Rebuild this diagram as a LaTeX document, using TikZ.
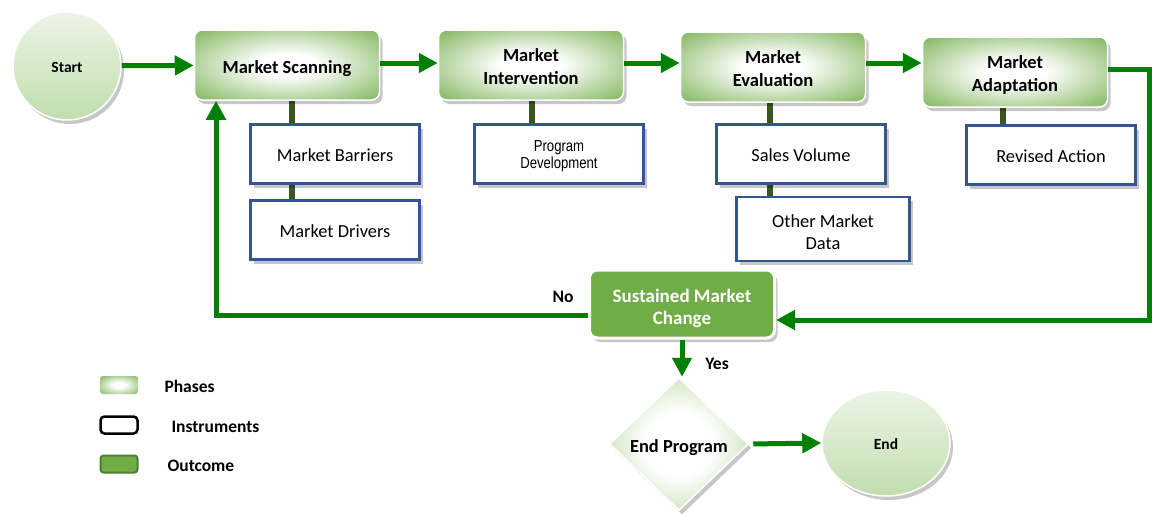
\documentclass[tikz,border=0pt]{standalone}
\usepackage{fontspec}
\setmainfont{Carlito}
\newfontfamily\arialf[FakeStretch=0.82]{Liberation Sans}
\usetikzlibrary{arrows.meta,shapes.geometric,shadows,backgrounds}
\definecolor{phaseG}{RGB}{118,175,78}
\definecolor{diaG}{RGB}{170,208,143}
\definecolor{outG}{RGB}{112,173,71}
\definecolor{outB}{RGB}{80,126,50}
\definecolor{flowG}{RGB}{0,128,0}
\definecolor{connG}{RGB}{56,87,35}
\definecolor{instB}{RGB}{52,85,145}
\definecolor{circT}{RGB}{236,244,230}
\definecolor{circB}{RGB}{193,222,175}
\pgfdeclareradialshading{phaseshade}{\pgfpoint{0bp}{0bp}}{color(0bp)=(white); color(8bp)=(white); color(38bp)=(phaseG); color(75bp)=(phaseG)}
\pgfdeclareradialshading{diashade}{\pgfpoint{0bp}{0bp}}{color(0bp)=(white); color(12bp)=(white); color(38bp)=(diaG); color(75bp)=(diaG)}
\newcommand\lowr[2]{\raisebox{-#1}[\height][\depth]{\begin{tabular}{@{}c@{}}#2\end{tabular}}}
\tikzset{
  shad/.style={drop shadow={shadow xshift=3pt,shadow yshift=-4pt,opacity=0.22,fill=black}},
  phase/.style={rounded corners=8pt, minimum width=185pt, minimum height=70pt, draw=white, line width=1.5pt,
    shading=phaseshade, shad, align=center, font=\bfseries\fontsize{18.5}{23}\selectfont},
  instr/.style={draw=instB, line width=2.2pt, fill=white, minimum width=169pt, minimum height=59pt,
    shad, align=center, font=\fontsize{18.4}{22}\selectfont},
  outc/.style={rounded corners=8pt, minimum width=185pt, minimum height=68pt, draw=white, line width=3pt,
    fill=outG, shad, align=center, text=white, font=\bfseries\fontsize{19}{22}\selectfont},
  term/.style={draw=white, line width=1.5pt, top color=circT, bottom color=circB, shad,
    font=\bfseries\fontsize{15.5}{18}\selectfont},
  flow/.style={draw=flowG, line width=5pt, -{Triangle[length=19pt,width=19pt]}},
  conn/.style={draw=connG, line width=6pt},
  lbl/.style={font=\bfseries\fontsize{17.5}{20}\selectfont},
}
\begin{document}
\begin{tikzpicture}[x=1pt,y=-1pt]
\useasboundingbox (0,0) rectangle (1152,514);
% terminals
\node[term, circle, minimum size=108pt, inner sep=0pt] (start) at (67,66) {\lowr{3pt}{Start}};
\node[term, ellipse, minimum width=128pt, minimum height=106pt, inner sep=0pt] (end) at (886,443) {\lowr{3pt}{End}};
% phases
\node[phase] (scan) at (287,65) {\lowr{4pt}{Market Scanning}};
\node[phase] (interv) at (531,65) {\lowr{3pt}{Market\\Intervention}};
\node[phase] (eval) at (773,67) {\lowr{3pt}{Market\\Evaluation}};
\node[phase] (adapt) at (1015,72) {\lowr{3pt}{Market\\Adaptation}};
% instruments
\node[instr] (barr) at (335,154) {\lowr{3pt}{Market Barriers}};
\node[instr] (drv) at (335,230) {\lowr{3pt}{Market Drivers}};
\node[instr, font=\arialf\fontsize{16}{17}\selectfont] (prog) at (559,154) {\lowr{3pt}{Program\\Development}};
\node[instr] (sales) at (801,154) {\lowr{3pt}{Sales Volume}};
\node[instr, minimum width=173pt, minimum height=64pt] (other) at (823,229) {\lowr{5pt}{Other Market\\Data}};
\node[instr] (rev) at (1051,155) {\lowr{3pt}{Revised Action}};
% outcome
\node[outc] (sust) at (682,304) {\lowr{5pt}{Sustained Market\\Change}};
\node[diamond, minimum width=139pt, minimum height=133pt, inner sep=0pt, draw=white, line width=1.5pt,
  shading=diashade, shad, font=\bfseries\fontsize{18.4}{22}\selectfont] (endp) at (679,444) {\lowr{4pt}{End Program}};
% connectors to instruments
\begin{scope}[on background layer]
\draw[conn] ([xshift=5pt]scan.south) -- ([xshift=5pt]scan.south |- drv.north);
\draw[conn] (prog.north -| 532,0) -- (interv.south -| 532,0);
\draw[conn] ([xshift=-3pt]eval.south) -- ([xshift=-3pt]eval.south |- other.north);
\draw[conn] ([xshift=-12pt]adapt.south) -- ([xshift=-12pt]adapt.south |- rev.north);
\end{scope}
% flow arrows
\draw[flow] (start) -- (scan);
\draw[flow] ([yshift=2pt]scan.east) -- ([yshift=2pt]scan.east -| interv.west);
\draw[flow] ([yshift=2pt]interv.east) -- ([yshift=2pt]interv.east -| eval.west);
\draw[flow] ([yshift=4pt]eval.east) -- ([yshift=4pt]eval.east -| adapt.west);
\coordinate (r1) at (1149,69);
\draw[flow] ([yshift=3pt]adapt.east) -- (r1) |- ([yshift=-16pt]sust.east);
\draw[flow] ([yshift=-11pt]sust.west) -| ([xshift=-71pt]scan.south);
\draw[flow] (sust.south) -- (sust.south |- endp.north);
\draw[flow, shorten <=4pt] (endp.east) -- (end.west);
% labels
\node[lbl] (no) at (563,297) {No};
\node[lbl] (yes) at (717,364) {Yes};
% legend
\node[rounded corners=3pt, minimum width=38pt, minimum height=18pt, shading=phaseshade, inner sep=0pt] (lp) at (119,385) {};
\node[rounded corners=4pt, minimum width=37pt, minimum height=17pt, draw=black, line width=2.5pt, fill=white, inner sep=0pt] (li) at (119,425) {};
\node[rounded corners=3pt, minimum width=37pt, minimum height=17pt, draw=outB, line width=2pt, fill=outG, inner sep=0pt] (lo) at (119,464) {};
\node[lbl, anchor=west] (tp) at (161,386) {Phases};
\node[lbl, anchor=west] (ti) at (168,427) {Instruments};
\node[lbl, anchor=west] (to) at (164,466) {Outcome};
\end{tikzpicture}
\end{document}
